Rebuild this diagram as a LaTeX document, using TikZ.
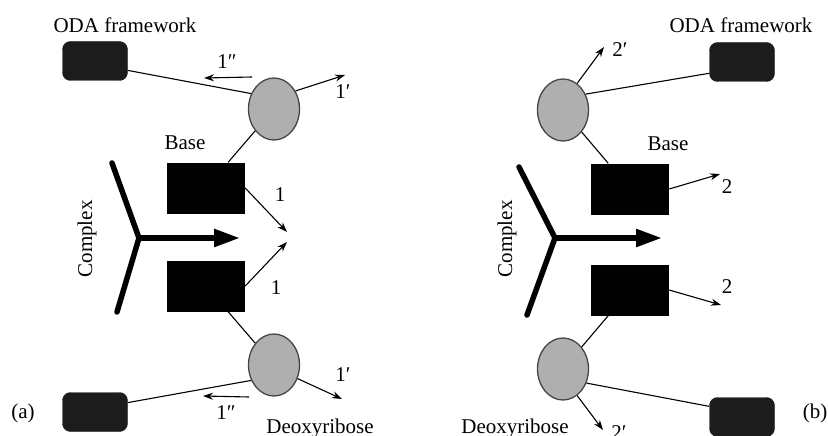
\documentclass[tikz,border=0pt]{standalone}
\usepackage{fontspec}
\setmainfont{Liberation Serif}
\usetikzlibrary{positioning}
\usetikzlibrary{shapes.geometric}
\usetikzlibrary{arrows.meta}
\definecolor{sugarfill}{HTML}{AFAFAF}
\definecolor{sugarline}{HTML}{454545}
\definecolor{odafill}{HTML}{1C1C1C}

\begin{document}
\begin{tikzpicture}[x=1pt, y=-1pt,
	every node/.style={font=\fontsize{21}{25}\selectfont, inner sep=0pt},
	oda/.style={draw=odafill, fill=odafill, rounded corners=8pt, minimum width=65pt, minimum height=39pt},
	sugar/.style={ellipse, draw=sugarline, fill=sugarfill, line width=1.3pt, minimum width=51pt, minimum height=62pt},
	base/.style={fill=black, minimum width=78pt, minimum height=51pt},
	link/.style={line width=1.1pt},
	move/.style={line width=1.1pt, -{Stealth[length=10pt,width=7pt]}},
	yarm/.style={line width=5.5pt, line cap=round, line join=round},
	push/.style={line width=5.5pt, -{Triangle[length=26pt,width=17pt]}}]

				\useasboundingbox (0,0) rectangle (828,436);

				% (a)
				\node (T1) at (125,25) {ODA framework};
				\node[oda] (O1) at (95,61) {};
				\node[sugar] (S1) at (274,109) {};
				\node[base] (B1) at (206,188) {};
				\node[base] (B2) at (206,286) {};
				\node[sugar] (S2) at (274,365) {};
				\node[oda] (O2) at (95,412) {};

				\draw[link] (O1.-16) -- (S1.146);
				\draw[link] (S1) -- (B1);
				\draw[link] (B2) -- (S2);
				\draw[link] (O2.16) -- (S2.214);

				\coordinate (P1) at (252,77);
				\coordinate (Q1) at (204,78);
				\coordinate (R1) at (345,75);
				\coordinate (U1) at (287,232);
				\coordinate (U2) at (287,242);
				\coordinate (P2) at (249,397);
				\coordinate (Q2) at (203,396);
				\coordinate (R2) at (342,399);

				\draw[move] (P1) -- (Q1);
				\draw[move] (S1.40) -- (R1);
				\draw[move] (B1.east) -- (U1);
				\draw[move] (B2.east) -- (U2);
				\draw[move] (P2) -- (Q2);
				\draw[move] (S2.-30) -- (R2);

				\node (L1) at (227,62) {1″};
				\node (L2) at (343,92) {1′};
				\node (L3) at (280,195) {1};
				\node (L4) at (276,288) {1};
				\node (L5) at (343,375) {1′};
				\node (L6) at (226,413) {1″};
				\node (K1) at (185,143) {Base};
				\node (D1) at (320,428) {Deoxyribose};
				\node (A1) at (23,413) {(a)};
				\node[rotate=90] (C1) at (87,239) {Complex};

				\coordinate (Y1) at (112,163);
				\coordinate (J1) at (139,238);
				\coordinate (Z1) at (117,312);
				\coordinate (H1) at (240,238);
				\draw[yarm] (Y1) -- (J1) -- (Z1);
				\draw[push] (J1) -- (H1);

				% (b)
				\node (T2) at (741,25) {ODA framework};
				\node[oda] (O3) at (742,62) {};
				\node[sugar] (S3) at (563,110) {};
				\node[base] (B3) at (630,189) {};
				\node[base] (B4) at (630,290) {};
				\node[sugar] (S4) at (563,369) {};
				\node[oda] (O4) at (742,417) {};

				\draw[link] (S3.35) -- (O3.199);
				\draw[link] (S3) -- (B3);
				\draw[link] (B4) -- (S4);
				\draw[link] (S4.-31) -- (O4.162);

				\coordinate (R3) at (604,47);
				\coordinate (V1) at (720,174);
				\coordinate (V2) at (721,305);
				\coordinate (R4) at (603,430);

				\draw[move] (S3.62) -- (R3);
				\draw[move] (B3.east) -- (V1);
				\draw[move] (B4.east) -- (V2);
				\draw[move] (S4.-62) -- (R4);

				\node (L7) at (620,50) {2′};
				\node (L8) at (727,187) {2};
				\node (L9) at (727,287) {2};
				\node (L10) at (619,433) {2′};
				\node (K2) at (668,144) {Base};
				\node (D2) at (515,428) {Deoxyribose};
				\node (A2) at (815,413) {(b)};
				\node[rotate=90] (C2) at (507,239) {Complex};

				\coordinate (Y2) at (519,167);
				\coordinate (J2) at (555,238);
				\coordinate (Z2) at (527,315);
				\coordinate (H2) at (662,238);
				\draw[yarm] (Y2) -- (J2) -- (Z2);
				\draw[push] (J2) -- (H2);

			\end{tikzpicture}
\end{document}
